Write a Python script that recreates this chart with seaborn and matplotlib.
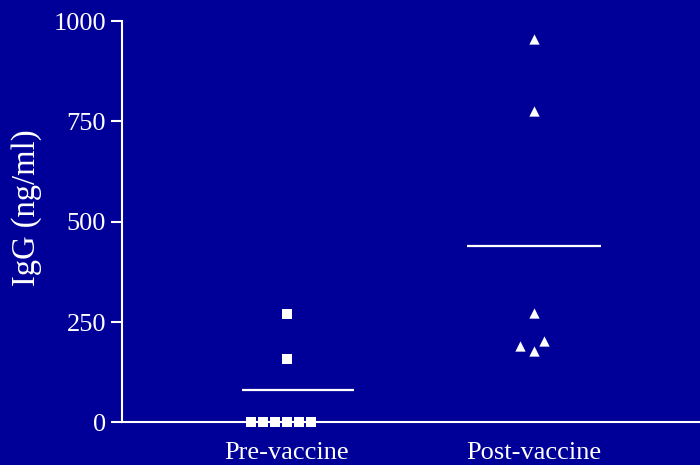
import matplotlib
matplotlib.use("Agg")
import matplotlib.pyplot as plt
from matplotlib.path import Path
import seaborn as sns
import pandas as pd
import numpy as np

# ---- data ----
categories = ["Pre-vaccine", "Post-vaccine"]
pre_values = [0, 0, 0, 0, 0, 0, 157, 271]
post_values = [178, 191, 203, 273, 776, 955]
group_means = [80, 440]
y_ticks = [0, 250, 500, 750, 1000]

BG = "#000099"
FG = "white"

sns.set_theme(style="ticks")
plt.rcParams["font.family"] = ["Liberation Serif", "DejaVu Serif"]

df = pd.DataFrame({
    "group": [categories[0]] * len(pre_values) + [categories[1]] * len(post_values),
    "igg": pre_values + post_values,
})


def shrunk_marker(shape, k):
    """Marker drawn smaller than its nominal size (nominal size keeps swarm spacing)."""
    if shape == "square":
        verts = [(-k, -k), (k, -k), (k, k), (-k, k), (-k, -k)]
    else:
        verts = [(0, k), (-k, -k), (k, -k), (0, k)]
    codes = [Path.MOVETO] + [Path.LINETO] * (len(verts) - 2) + [Path.CLOSEPOLY]
    verts = verts + [(1, 1), (-1, -1)]
    codes = codes + [Path.MOVETO, Path.MOVETO]
    return Path(verts, codes)


fig = plt.figure(figsize=(7.0, 4.65), dpi=100, facecolor=BG)
ax = fig.add_axes([0.1743, 0.0914, 0.8257, 0.8634])
ax.set_facecolor(BG)

styles = [(shrunk_marker("square", 0.86), 8.3), (shrunk_marker("tri", 0.74), 10.0)]
for cat, (mk, swarm_size) in zip(categories, styles):
    sub = df[df["group"] == cat]
    n_before = len(ax.collections)
    sns.swarmplot(data=sub, x="group", y="igg", order=categories, ax=ax,
                  marker=mk, color=FG, size=swarm_size, linewidth=0)
    for coll in ax.collections[n_before:]:
        coll.set_clip_on(False)

# mean lines (spans relative to category position)
spans = [(-0.183, 0.272), (-0.271, 0.271)]
for i, (m, (lo, hi)) in enumerate(zip(group_means, spans)):
    ax.hlines(m, i + lo, i + hi, color=FG, linewidth=1.6)

ax.set_xlim(-0.668, 1.672)
ax.set_ylim(0, 1000)
ax.set_yticks(y_ticks)
ax.set_yticklabels([str(t) for t in y_ticks])
ax.set_xlabel("")
ax.set_ylabel("IgG (ng/ml)", color=FG, fontsize=23.5)
ax.yaxis.set_label_coords(-0.138, 0.536)

for side in ["top", "right"]:
    ax.spines[side].set_visible(False)
for side in ["left", "bottom"]:
    ax.spines[side].set_color(FG)
    ax.spines[side].set_linewidth(1.5)

ax.tick_params(axis="y", colors=FG, labelsize=19, length=8, width=1.5, pad=3.5, direction="out")
ax.tick_params(axis="x", colors=FG, labelsize=19, length=0, pad=14)

fig.savefig("out.png", dpi=100, facecolor=BG)
